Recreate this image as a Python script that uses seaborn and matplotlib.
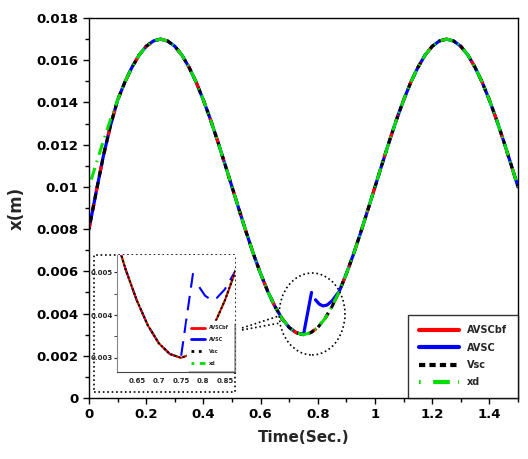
import numpy as np
import pandas as pd
import seaborn as sns
import matplotlib.pyplot as plt
from matplotlib.lines import Line2D
from matplotlib.patches import Ellipse, Rectangle
from matplotlib.ticker import MultipleLocator, FormatStrFormatter

# time axis (s)
t = [0, 0.025, 0.05, 0.075, 0.1, 0.125, 0.15, 0.175, 0.2, 0.225, 0.25,
     0.275, 0.3, 0.325, 0.35, 0.375, 0.4, 0.425, 0.45, 0.475, 0.5,
     0.525, 0.55, 0.575, 0.6, 0.625, 0.65, 0.675, 0.7, 0.725, 0.75,
     0.775, 0.8, 0.825, 0.85, 0.875, 0.9, 0.925, 0.95, 0.975, 1.0,
     1.025, 1.05, 1.075, 1.1, 1.125, 1.15, 1.175, 1.2, 1.225, 1.25,
     1.275, 1.3, 1.325, 1.35, 1.375, 1.4, 1.425, 1.45, 1.475, 1.5]

# desired trajectory xd
xd = [0.0100, 0.01109, 0.01216, 0.01318, 0.01411, 0.01495, 0.01566, 0.01624, 0.01666, 0.01691, 0.0170,
      0.01691, 0.01666, 0.01624, 0.01566, 0.01495, 0.01411, 0.01318, 0.01216, 0.01109, 0.0100,
      0.00891, 0.00784, 0.00682, 0.00589, 0.00505, 0.00434, 0.00376, 0.00334, 0.00309, 0.0030,
      0.00309, 0.00334, 0.00376, 0.00434, 0.00505, 0.00589, 0.00682, 0.00784, 0.00891, 0.0100,
      0.01109, 0.01216, 0.01318, 0.01411, 0.01495, 0.01566, 0.01624, 0.01666, 0.01691, 0.0170,
      0.01691, 0.01666, 0.01624, 0.01566, 0.01495, 0.01411, 0.01318, 0.01216, 0.01109, 0.0100]

avscbf = [0.0080, 0.00975, 0.01145, 0.01290, 0.01411, 0.01495, 0.01566, 0.01624, 0.01666, 0.01691, 0.0170,
          0.01691, 0.01666, 0.01624, 0.01566, 0.01495, 0.01411, 0.01318, 0.01216, 0.01109, 0.0100,
          0.00891, 0.00784, 0.00682, 0.00589, 0.00505, 0.00434, 0.00376, 0.00334, 0.00309, 0.0030,
          0.00309, 0.00334, 0.00376, 0.00434, 0.00505, 0.00589, 0.00682, 0.00784, 0.00891, 0.0100,
          0.01109, 0.01216, 0.01318, 0.01411, 0.01495, 0.01566, 0.01624, 0.01666, 0.01691, 0.0170,
          0.01691, 0.01666, 0.01624, 0.01566, 0.01495, 0.01411, 0.01318, 0.01216, 0.01109, 0.0100]

vsc = [0.0080, 0.00975, 0.01145, 0.01290, 0.01411, 0.01495, 0.01566, 0.01624, 0.01666, 0.01691, 0.0170,
       0.01691, 0.01666, 0.01624, 0.01566, 0.01495, 0.01411, 0.01318, 0.01216, 0.01109, 0.0100,
       0.00891, 0.00784, 0.00682, 0.00589, 0.00505, 0.00434, 0.00376, 0.00334, 0.00309, 0.0030,
       0.00309, 0.00334, 0.00376, 0.00434, 0.00505, 0.00589, 0.00682, 0.00784, 0.00891, 0.0100,
       0.01109, 0.01216, 0.01318, 0.01411, 0.01495, 0.01566, 0.01624, 0.01666, 0.01691, 0.0170,
       0.01691, 0.01666, 0.01624, 0.01566, 0.01495, 0.01411, 0.01318, 0.01216, 0.01109, 0.0100]

# AVSC has a jump near the minimum (two pieces)
avsc_t = [0, 0.025, 0.05, 0.075, 0.1, 0.125, 0.15, 0.175, 0.2, 0.225, 0.25,
          0.275, 0.3, 0.325, 0.35, 0.375, 0.4, 0.425, 0.45, 0.475, 0.5,
          0.525, 0.55, 0.575, 0.6, 0.625, 0.65, 0.675, 0.7, 0.725, 0.75, 0.778,
          0.792, 0.805, 0.818, 0.832, 0.85, 0.875, 0.9, 0.925, 0.95, 0.975, 1.0,
          1.025, 1.05, 1.075, 1.1, 1.125, 1.15, 1.175, 1.2, 1.225, 1.25,
          1.275, 1.3, 1.325, 1.35, 1.375, 1.4, 1.425, 1.45, 1.475, 1.5]
avsc_x = [0.0080, 0.00975, 0.01145, 0.01290, 0.01411, 0.01495, 0.01566, 0.01624, 0.01666, 0.01691, 0.0170,
          0.01691, 0.01666, 0.01624, 0.01566, 0.01495, 0.01411, 0.01318, 0.01216, 0.01109, 0.0100,
          0.00891, 0.00784, 0.00682, 0.00589, 0.00505, 0.00434, 0.00376, 0.00334, 0.00309, 0.0030, 0.0050,
          0.00465, 0.00445, 0.00436, 0.00440, 0.00460, 0.00505, 0.00589, 0.00682, 0.00784, 0.00891, 0.0100,
          0.01109, 0.01216, 0.01318, 0.01411, 0.01495, 0.01566, 0.01624, 0.01666, 0.01691, 0.0170,
          0.01691, 0.01666, 0.01624, 0.01566, 0.01495, 0.01411, 0.01318, 0.01216, 0.01109, 0.0100]
avsc_seg = [0] * 32 + [1] * 31

labels = ['AVSCbf', 'AVSC', 'Vsc', 'xd']

df = pd.DataFrame({'t': t, 'xd': xd, 'AVSCbf': avscbf, 'Vsc': vsc})
df_avsc = pd.DataFrame({'t': avsc_t, 'x': avsc_x, 'seg': avsc_seg})

sns.set_style('white')
plt.rcParams['font.family'] = ['DejaVu Sans']
plt.rcParams['font.weight'] = 'bold'

RED, BLUE, GREEN = '#ff0000', '#0000ff', '#00e000'

fig = plt.figure(figsize=(5.28, 4.59), dpi=100)
ax = fig.add_axes([89 / 528, 61 / 459, 429 / 528, 380 / 459])

# main curves
sns.lineplot(data=df_avsc, x='t', y='x', units='seg', estimator=None, ax=ax,
             color=BLUE, lw=2.3, sort=False)
sns.lineplot(data=df, x='t', y='AVSCbf', ax=ax, color=RED, lw=2.3, ls=(0, (2, 4)))
sns.lineplot(data=df, x='t', y='Vsc', ax=ax, color='black', lw=2.2, ls=(1.5, (2, 1.8)))
sns.lineplot(data=df, x='t', y='xd', ax=ax, color=GREEN, lw=2.2, ls=(0, (0.5, 2, 4, 2)))

ax.set_xlim(0, 1.5)
ax.set_ylim(0, 0.018)
ax.xaxis.set_major_locator(MultipleLocator(0.2))
ax.xaxis.set_minor_locator(MultipleLocator(0.1))
ax.yaxis.set_major_locator(MultipleLocator(0.002))
ax.yaxis.set_minor_locator(MultipleLocator(0.001))
ax.xaxis.set_major_formatter(FormatStrFormatter('%g'))
ax.yaxis.set_major_formatter(FormatStrFormatter('%g'))
ax.tick_params(which='both', direction='out', bottom=True, left=True, colors='black')
ax.tick_params(which='major', length=4, width=1, labelsize=9.5)
ax.tick_params(which='minor', length=3, width=1)
for s in ax.spines.values():
    s.set_color('black')
    s.set_linewidth(1)
ax.set_xlabel('Time(Sec.)', fontsize=11, fontweight='bold', labelpad=6)
ax.set_ylabel('x(m)', fontsize=12, fontweight='bold', labelpad=8)

handles = [Line2D([], [], color=RED, lw=3),
           Line2D([], [], color=BLUE, lw=3),
           Line2D([], [], color='black', lw=3, ls=(0, (1.5, 1))),
           Line2D([], [], color=GREEN, lw=3, ls=(0, (0.4, 3, 4, 2)))]
leg = ax.legend(handles, labels, loc='lower right', bbox_to_anchor=(1, 0), borderaxespad=0,
                fontsize=7, handlelength=4.2, handletextpad=0.8, labelspacing=0.75,
                borderpad=1.1, fancybox=False, frameon=True)
leg.get_frame().set_edgecolor('black')
leg.get_frame().set_linewidth(1)
for txt in leg.get_texts():
    txt.set_fontweight('bold')

# zoom marker
ax.add_patch(Ellipse((0.78, 0.00398), 0.23, 0.00388, fill=False, ls=':', ec='black', lw=1.2, zorder=5))
fig.add_artist(Line2D([242 / 528, 279 / 528], [131 / 459, 143 / 459], transform=fig.transFigure,
                      color='black', ls=':', lw=1.2))
fig.add_artist(Line2D([242 / 528, 280 / 528], [129 / 459, 136 / 459], transform=fig.transFigure,
                      color='black', ls=':', lw=1.2))

# dotted frame of the inset
box = Rectangle((94 / 528, 67 / 459), 141 / 528, 137 / 459, transform=fig.transFigure,
                facecolor='white', edgecolor='black', ls=':', lw=1.2, zorder=0.5)
fig.add_artist(box)

# inset
axi = fig.add_axes([117 / 528, 87 / 459, 118 / 528, 117 / 459])
axi.set_zorder(2)
sns.lineplot(data=df, x='t', y='xd', ax=axi, color=GREEN, lw=1.6, ls=(0, (3, 2)))
sns.lineplot(data=df_avsc, x='t', y='x', units='seg', estimator=None, ax=axi,
             color=BLUE, lw=1.5, ls=(0, (7, 4)), sort=False)
sns.lineplot(data=df, x='t', y='AVSCbf', ax=axi, color=RED, lw=1.4)
sns.lineplot(data=df, x='t', y='Vsc', ax=axi, color='black', lw=1.4, ls=(0, (1, 1.2)))
axi.set_xlim(0.605, 0.873)
axi.set_ylim(0.00267, 0.0054)
axi.set_xlabel('')
axi.set_ylabel('')
axi.set_xticks([0.65, 0.7, 0.75, 0.8, 0.85])
axi.yaxis.set_major_locator(MultipleLocator(0.001))
axi.yaxis.set_minor_locator(MultipleLocator(0.0005))
axi.xaxis.set_major_formatter(FormatStrFormatter('%g'))
axi.yaxis.set_major_formatter(FormatStrFormatter('%g'))
axi.tick_params(axis='x', length=0, labelsize=5, pad=4)
axi.tick_params(axis='y', which='both', left=True, direction='out', length=2, labelsize=5, pad=1)
axi.spines['top'].set_visible(False)
axi.spines['right'].set_visible(False)
axi.spines['left'].set_color('#888888')
axi.spines['bottom'].set_color('#444444')

ih = [Line2D([], [], color=RED, lw=2),
      Line2D([], [], color=BLUE, lw=2),
      Line2D([], [], color='black', lw=2, ls=':'),
      Line2D([], [], color=GREEN, lw=2, ls=(0, (1, 2, 3, 1)))]
li = axi.legend(ih, labels, loc='lower right', bbox_to_anchor=(0.98, 0.02), borderaxespad=0,
                fontsize=3.5, handlelength=3, labelspacing=1.4, borderpad=0.8,
                fancybox=False, shadow=True, frameon=True)
li.get_frame().set_edgecolor('white')

fig.savefig('out.png', dpi=100)
